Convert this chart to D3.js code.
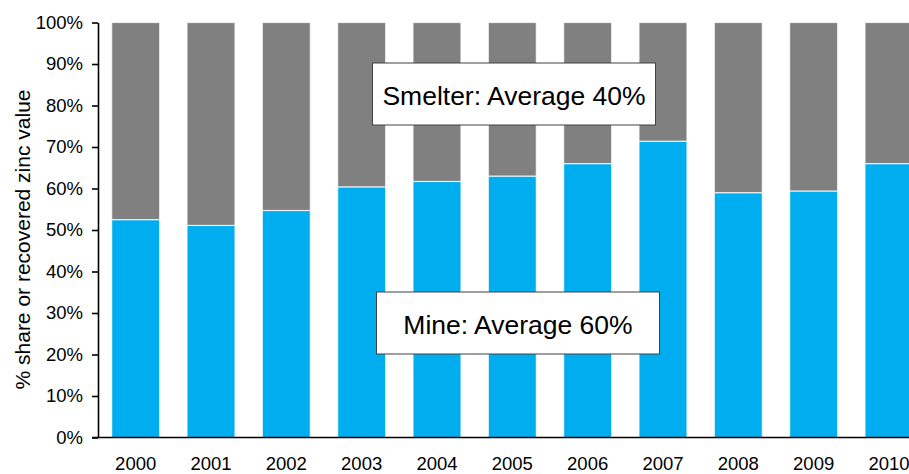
<!DOCTYPE html>
<html>
<head>
<meta charset="utf-8">
<script src="https://cdn.jsdelivr.net/npm/d3@7"></script>
<style>
  html, body { margin: 0; padding: 0; background: #fff; overflow: hidden; }
  svg { display: block; font-family: "Liberation Sans", Arial, Helvetica, sans-serif; }
</style>
</head>
<body>
<svg id="chart" width="909" height="474"></svg>
<script>
// Share of recovered zinc value: mine vs smelter, 2000–2010
const years   = ["2000", "2001", "2002", "2003", "2004", "2005", "2006", "2007", "2008", "2009", "2010"];
const mine    = [52.5, 51.1, 54.7, 60.4, 61.7, 63.0, 66.0, 71.4, 59.0, 59.4, 66.0];
const smelter = [47.5, 48.9, 45.3, 39.6, 38.3, 37.0, 34.0, 28.6, 41.0, 40.6, 34.0];
const yTicks  = [0, 10, 20, 30, 40, 50, 60, 70, 80, 90, 100];
const seriesKeys   = ["mine", "smelter"];
const seriesColors = { mine: "#00AEEF", smelter: "#808080" };
const yTitle = "% share or recovered zinc value";
const notes = [
  { text: "Smelter: Average 40%", cx: 514, cy: 94,  w: 283, h: 62 },
  { text: "Mine: Average 60%",    cx: 518, cy: 323, w: 283, h: 62 }
];

const svg = d3.select("#chart");
const plotLeft = 98, plotTop = 22.5, plotBottom = 437.5, step = 75.33;

const rows = years.map((yr, i) => ({ year: yr, mine: mine[i], smelter: smelter[i] }));
const stacked = d3.stack().keys(seriesKeys)(rows);

const x = d3.scaleBand()
  .domain(years)
  .range([plotLeft, plotLeft + step * years.length])
  .paddingInner(0.363)
  .paddingOuter(0.1815);

const y = d3.scaleLinear().domain([0, 100]).range([plotBottom, plotTop]);

// stacked bars
svg.append("g").selectAll("g")
  .data(stacked)
  .join("g")
  .attr("fill", d => seriesColors[d.key])
  .selectAll("rect")
  .data(d => d)
  .join("rect")
  .attr("x", d => x(d.data.year))
  .attr("width", x.bandwidth())
  .attr("y", d => y(d[1]))
  .attr("height", d => y(d[0]) - y(d[1]))
  .attr("stroke", "#fff")
  .attr("stroke-opacity", 0.75)
  .attr("stroke-width", 1.2);

// y axis
const yAxis = svg.append("g")
  .attr("transform", `translate(${plotLeft},0)`)
  .call(d3.axisLeft(y).tickValues(yTicks).tickFormat(d => d + "%").tickSize(6).tickSizeOuter(0));
yAxis.select(".domain").attr("stroke", "#000").attr("stroke-width", 1.6);
yAxis.selectAll(".tick line").attr("stroke", "#000").attr("stroke-width", 1.6);
yAxis.selectAll(".tick text")
  .attr("x", -15)
  .attr("fill", "#000")
  .style("font-size", "18.5px")
  .style("font-family", "'Liberation Sans', Arial, sans-serif");

// x axis
const xAxis = svg.append("g")
  .attr("transform", `translate(0,${plotBottom})`)
  .call(d3.axisBottom(x).tickSize(0).tickPadding(19.5));
xAxis.select(".domain").remove();
xAxis.selectAll(".tick text")
  .attr("fill", "#000")
  .style("font-size", "18.5px")
  .style("font-family", "'Liberation Sans', Arial, sans-serif");
svg.append("line")
  .attr("x1", plotLeft - 6).attr("x2", 909)
  .attr("y1", plotBottom).attr("y2", plotBottom)
  .attr("stroke", "#000").attr("stroke-width", 1.6);

// y axis title
svg.append("text")
  .attr("transform", "translate(30,239.5) rotate(-90)")
  .attr("text-anchor", "middle")
  .style("font-size", "21px")
  .attr("fill", "#000")
  .text(yTitle);

// average annotations
const note = svg.append("g").selectAll("g").data(notes).join("g");
note.append("rect")
  .attr("x", d => d.cx - d.w / 2)
  .attr("y", d => d.cy - d.h / 2)
  .attr("width", d => d.w)
  .attr("height", d => d.h)
  .attr("fill", "#fff")
  .attr("stroke", "#404040")
  .attr("stroke-width", 1);
note.append("text")
  .attr("x", d => d.cx)
  .attr("y", d => d.cy + 10.5)
  .attr("text-anchor", "middle")
  .style("font-size", "26.5px")
  .attr("fill", "#000")
  .text(d => d.text);
</script>
</body>
</html>
